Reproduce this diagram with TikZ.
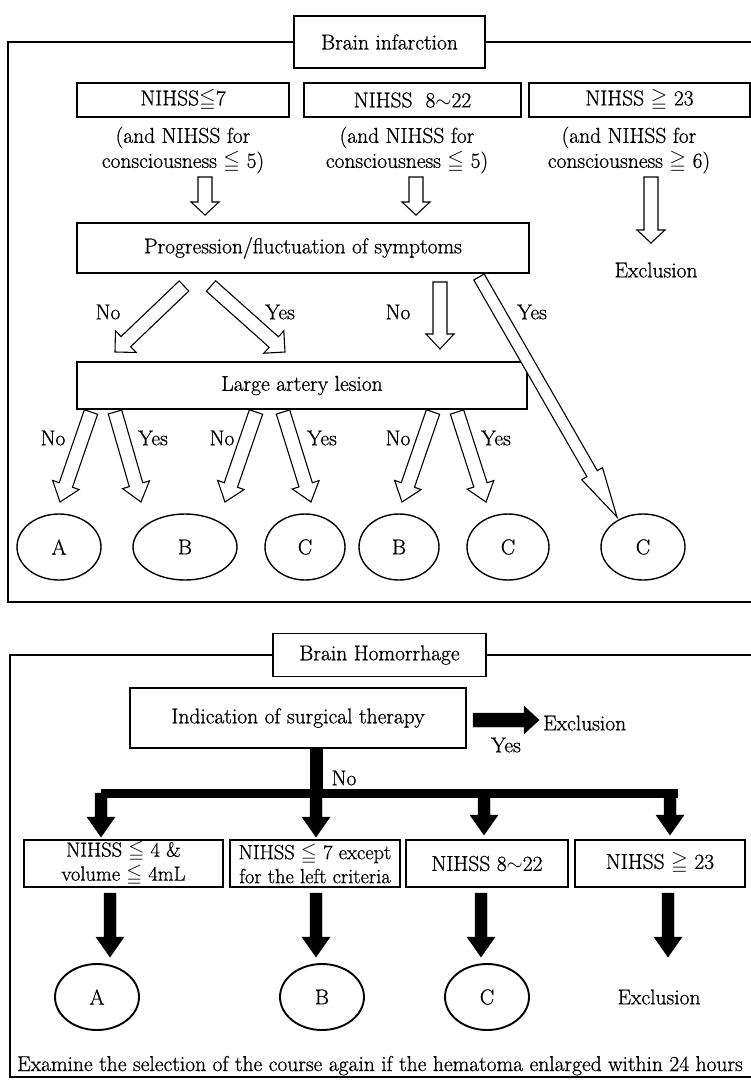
\documentclass[tikz,border=0pt]{standalone}
\usepackage{amssymb}
\usepackage{fontspec}
\setmainfont{Latin Modern Roman}[FakeBold=0.8]
\usetikzlibrary{calc,shapes.geometric}
\newcommand\harrow[6][]{%
  \coordinate (hN) at ($(#3)!#5!(#2)$);
  \draw[#1] ($(#2)!#4!90:(#3)$) -- ($(hN)!#4!90:(#3)$) -- ($(hN)!#6!90:(#3)$) -- (#3)
    -- ($(hN)!#6!-90:(#3)$) -- ($(hN)!#4!-90:(#3)$) -- ($(#2)!#4!-90:(#3)$) -- cycle;}
\begin{document}
\begin{tikzpicture}[x=1pt,y=-1pt,
  font=\fontsize{21.5}{25}\selectfont,
  frame/.style={line width=2.3pt},
  box/.style={draw, rectangle, line width=1.5pt, inner sep=0pt, align=center},
  oval/.style={draw, ellipse, line width=1.4pt, inner sep=0pt},
  ovalb/.style={draw, ellipse, line width=1.9pt, inner sep=0pt},
  lbl/.style={inner sep=0pt, align=center},
  smalltext/.style={font=\fontsize{20.5}{24}\selectfont},
  hollowarr/.style={draw, fill=white, line width=1.1pt, line join=miter},
  solidarr/.style={draw, fill=black, line width=0.4pt, line join=miter}]
\useasboundingbox (0,0) rectangle (751,1080);

% ---------------- Section 1: Brain infarction ----------------
\node[box, minimum width=191pt, minimum height=52pt] (title1) at (389.5,42) {Brain infarction};
\draw[frame] (title1.west) -- (8,42) -- (8,602) -- (770,602);
\draw[frame] (title1.east) -- (770,42);

\node[box, minimum width=212pt, minimum height=34pt] (n1) at (183,100) {NIHSS$\leqq$7};
\node[box, minimum width=217pt, minimum height=34pt] (n2) at (412.5,100) {NIHSS\ \ 8$\sim$22};
\node[box, minimum width=221pt, minimum height=34pt] (n3) at (639.5,100) {NIHSS $\geqq$ 23};

\node[lbl] (c1) at (183,150) {(and NIHSS for\\consciousness $\leqq$ 5)};
\node[lbl] (c2) at (407,150) {(and NIHSS for\\consciousness $\leqq$ 5)};
\node[lbl] (c3) at (629,150) {(and NIHSS for\\consciousness $\geqq$ 6)};

\node[box, minimum width=452pt, minimum height=50pt] (prog) at (303,248) {Progression/fluctuation of symptoms};
\node[lbl] (ex1) at (656,270) {Exclusion};

\coordinate (a1t) at (205,177); \coordinate (a1h) at (205,215);
\coordinate (a2t) at (416,177); \coordinate (a2h) at (416,215);
\coordinate (a3t) at (651,177); \coordinate (a3h) at (651,243);
\harrow[hollowarr]{a1t}{a1h}{7pt}{13pt}{14pt}
\harrow[hollowarr]{a2t}{a2h}{7pt}{13pt}{14pt}
\harrow[hollowarr]{a3t}{a3h}{7pt}{13pt}{14pt}

\node[box, minimum width=450pt, minimum height=47pt] (lal) at (302,385.5) {Large artery lesion};

\coordinate (d1t) at (184,286); \coordinate (d1h) at (115,352);
\coordinate (d2t) at (211,286); \coordinate (d2h) at (285,352);
\coordinate (d3t) at (440,282); \coordinate (d3h) at (440,349);
\harrow[hollowarr]{d1t}{d1h}{7pt}{15pt}{15pt}
\harrow[hollowarr]{d2t}{d2h}{7pt}{15pt}{15pt}
\harrow[hollowarr]{d3t}{d3h}{7pt}{15pt}{14pt}
\node[lbl] at (108,312) {No};
\node[lbl] at (280,312) {Yes};
\node[lbl] at (398,312) {No};
\node[lbl] at (532,312) {Yes};

% outcome ovals
\node[oval, minimum width=84pt, minimum height=66pt] (o1) at (59,547) {A};
\node[oval, minimum width=104pt, minimum height=66pt] (o2) at (185,547) {B};
\node[oval, minimum width=80pt, minimum height=66pt] (o3) at (305,547) {C};
\node[oval, minimum width=80pt, minimum height=66pt] (o4) at (399,547) {B};
\node[oval, minimum width=82pt, minimum height=66pt] (o5) at (508,547) {C};
\node[oval, minimum width=84pt, minimum height=66pt] (o6) at (643,547) {C};

\coordinate (d4t) at (479,277); \coordinate (d4h) at (617,517);
\harrow[hollowarr]{d4t}{d4h}{6pt}{50pt}{12pt}

\coordinate (e1t) at (91,412);  \coordinate (e1h) at (60,502);
\coordinate (e2t) at (115,412); \coordinate (e2h) at (141,502);
\coordinate (e3t) at (256,412); \coordinate (e3h) at (225,502);
\coordinate (e4t) at (283,412); \coordinate (e4h) at (311,502);
\coordinate (e5t) at (433,412); \coordinate (e5h) at (402,502);
\coordinate (e6t) at (457,412); \coordinate (e6h) at (486,502);
\harrow[hollowarr]{e1t}{e1h}{7pt}{18pt}{14pt}
\harrow[hollowarr]{e2t}{e2h}{7pt}{18pt}{14pt}
\harrow[hollowarr]{e3t}{e3h}{7pt}{18pt}{14pt}
\harrow[hollowarr]{e4t}{e4h}{7pt}{18pt}{14pt}
\harrow[hollowarr]{e5t}{e5h}{7pt}{18pt}{14pt}
\harrow[hollowarr]{e6t}{e6h}{7pt}{18pt}{14pt}
\node[lbl] at (53,438) {No};
\node[lbl] at (153,438) {Yes};
\node[lbl] at (222,438) {No};
\node[lbl] at (322,438) {Yes};
\node[lbl] at (398,438) {No};
\node[lbl] at (496,438) {Yes};

% ---------------- Section 2: Brain Homorrhage ----------------
\node[box, minimum width=213pt, minimum height=43pt] (title2) at (379.5,655) {Brain Homorrhage};
\draw[frame] (title2.west) -- (10,655) -- (10,1077) -- (770,1077);
\draw[frame] (title2.east) -- (770,655);

\node[box, minimum width=336pt, minimum height=60pt] (ind) at (298,718) {Indication of surgical therapy};
\coordinate (r1t) at (473,720); \coordinate (r1h) at (539,720);
\harrow[solidarr]{r1t}{r1h}{7pt}{15pt}{14pt}
\node[lbl, anchor=west] (ex2) at (543,723) {Exclusion};
\node[lbl] at (506,745) {Yes};

\coordinate (s0) at (316,748);
\coordinate (s1) at (316,797);
\draw[line width=13pt] (s0) -- (s1);
\node[lbl] at (344,778) {No};
\coordinate (barL) at (101,793);
\coordinate (barR) at (678,793);
\draw[line width=9pt] (barL) -- (barR);

\node[box, smalltext, minimum width=199pt, minimum height=47pt] (b1) at (123.5,863.5) {NIHSS $\leqq$ 4 \&\\volume $\leqq$ 4mL};
\node[box, smalltext, minimum width=170pt, minimum height=47pt] (b2) at (315,863.5) {NIHSS $\leqq$ 7 except\\for the left criteria};
\node[box, minimum width=162pt, minimum height=47pt] (b3) at (487,863.5) {NIHSS 8$\sim$22};
\node[box, minimum width=170pt, minimum height=47pt] (b4) at (660,863.5) {NIHSS $\geqq$ 23};

\coordinate (f1t) at (101,793); \coordinate (f1h) at (101,837);
\coordinate (f2t) at (316,793); \coordinate (f2h) at (316,837);
\coordinate (f3t) at (484,793); \coordinate (f3h) at (484,835);
\coordinate (f4t) at (670,793); \coordinate (f4h) at (670,835);
\harrow[solidarr]{f1t}{f1h}{6pt}{20pt}{14pt}
\harrow[solidarr]{f2t}{f2h}{6pt}{20pt}{14pt}
\harrow[solidarr]{f3t}{f3h}{6pt}{20pt}{14pt}
\harrow[solidarr]{f4t}{f4h}{6pt}{20pt}{14pt}

\node[ovalb, minimum width=84pt, minimum height=66pt] (p1) at (97,997) {A};
\node[ovalb, minimum width=84pt, minimum height=66pt] (p2) at (322,997) {B};
\node[ovalb, minimum width=84pt, minimum height=66pt] (p3) at (487,997) {C};
\node[lbl] (ex3) at (659,997) {Exclusion};

\coordinate (g1t) at (110,893); \coordinate (g1h) at (110,957);
\coordinate (g2t) at (316,893); \coordinate (g2h) at (316,957);
\coordinate (g3t) at (481,893); \coordinate (g3h) at (481,957);
\coordinate (g4t) at (668,893); \coordinate (g4h) at (668,957);
\harrow[solidarr]{g1t}{g1h}{6pt}{20pt}{14pt}
\harrow[solidarr]{g2t}{g2h}{6pt}{20pt}{14pt}
\harrow[solidarr]{g3t}{g3h}{6pt}{20pt}{14pt}
\harrow[solidarr]{g4t}{g4h}{6pt}{20pt}{14pt}

\node[lbl, anchor=base] (note) at (380,1071) {Examine the selection of the course again if the hematoma enlarged within 24 hours};
\end{tikzpicture}
\end{document}
